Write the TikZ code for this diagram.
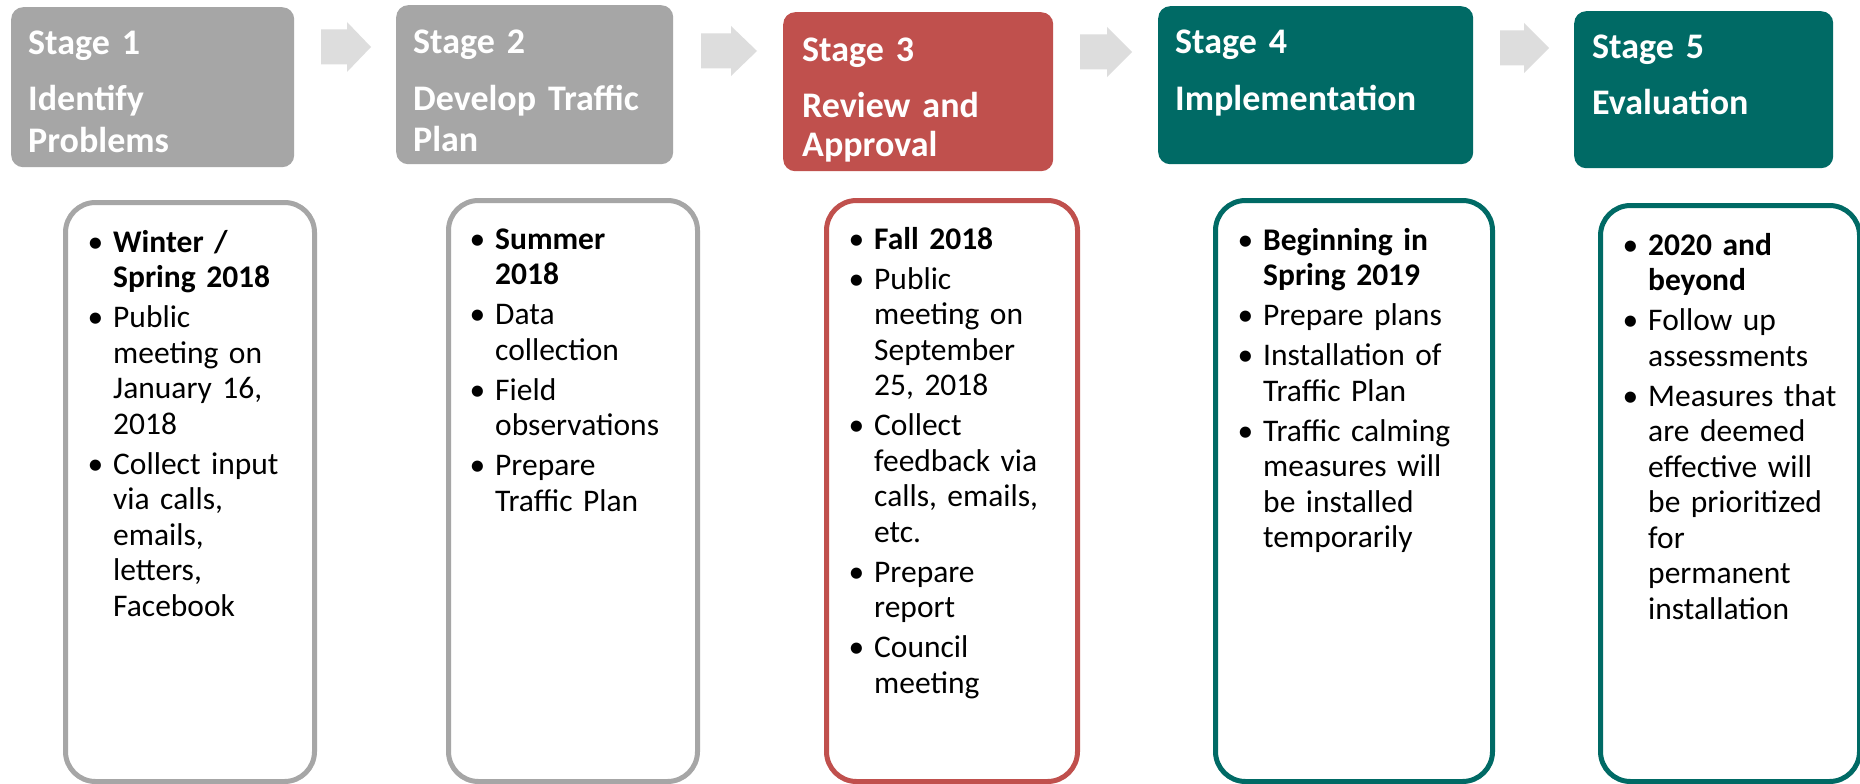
\documentclass[tikz,border=0pt]{standalone}
\usepackage{fontspec}
\setmainfont{Carlito}
\definecolor{stgray}{HTML}{A6A6A6}
\definecolor{stred}{HTML}{C0504D}
\definecolor{stteal}{HTML}{006A65}
\definecolor{arrgray}{HTML}{DDDDDD}
\newcommand{\stbul}{\leavevmode\llap{•\hspace{10pt}}}
\newcommand{\stagearrow}[4]{\fill[arrgray] (#1,#4-17.5) -- (#2,#4-17.5) -- (#2,#4-25) -- (#3,#4) -- (#2,#4+25) -- (#2,#4+17.5) -- (#1,#4+17.5) -- cycle;}
\begin{document}
\begin{tikzpicture}[x=1pt,y=-1pt,
  hdrbox/.style={rounded corners=12pt, inner sep=0pt, anchor=north west},
  hdrtext/.style={anchor=base west, inner sep=0pt, align=left, text width=300pt, text=white, font=\fontsize{36}{42}\selectfont\bfseries},
  bodybox/.style={rounded corners=30pt, line width=5pt, fill=white, inner sep=0pt, anchor=north west},
  bodytext/.style={anchor=base west, inner sep=0pt, align=left, text width=230pt, font=\fontsize{31.5}{35.5}\selectfont}]
\useasboundingbox (0,0) rectangle (1860,784);
\fill[white] (0,0) rectangle (1860,784);

% header boxes
\node[hdrbox, fill=stgray, minimum width=283pt, minimum height=160pt] (h1) at (11,7) {};
\node[hdrbox, fill=stgray, minimum width=277pt, minimum height=159pt] (h2) at (396,5) {};
\node[hdrbox, fill=stred,  minimum width=270pt, minimum height=159pt] (h3) at (783,12) {};
\node[hdrbox, fill=stteal, minimum width=315pt, minimum height=158pt] (h4) at (1158,6) {};
\node[hdrbox, fill=stteal, minimum width=259pt, minimum height=157pt] (h5) at (1574,11) {};

\node[hdrtext] (t1) at (28,55) {Stage 1\\[13pt]Identify\\[1pt]Problems};
\node[hdrtext] (t2) at (413,53) {Stage 2\\[15pt]Develop Traffic\\[-1pt]Plan};
\node[hdrtext] (t3) at (802,62) {Stage 3\\[14pt]Review and\\[-3pt]Approval};
\node[hdrtext] (t4) at (1175,53) {Stage 4\\[15pt]Implementation};
\node[hdrtext] (t5) at (1592,59) {Stage 5\\[14pt]Evaluation};

% arrows between stages
\stagearrow{321}{347}{371}{47}
\stagearrow{701}{731}{757}{51}
\stagearrow{1080}{1107}{1132}{52}
\stagearrow{1500}{1524}{1549}{48}

% body boxes
\node[bodybox, draw=stgray, minimum width=249pt, minimum height=579pt] (b1) at (63,200) {};
\node[bodybox, draw=stgray, minimum width=249pt, minimum height=581pt] (b2) at (446,198) {};
\node[bodybox, draw=stred,  minimum width=251pt, minimum height=581pt] (b3) at (824,198) {};
\node[bodybox, draw=stteal, minimum width=277pt, minimum height=581pt] (b4) at (1213,198) {};
\node[bodybox, draw=stteal, minimum width=259pt, minimum height=576pt] (b5) at (1598,203) {};

\node[bodytext] (x1) at (113,252) {\stbul\textbf{Winter /}\\\textbf{Spring 2018}\\[4.5pt]\stbul Public\\meeting on\\January 16,\\2018\\[4.5pt]\stbul Collect input\\via calls,\\emails,\\letters,\\Facebook};
\node[bodytext] (x2) at (495,249) {\stbul\textbf{Summer}\\\textbf{2018}\\[4.5pt]\stbul Data\\collection\\[4.5pt]\stbul Field\\observations\\[4.5pt]\stbul Prepare\\Traffic Plan};
\node[bodytext] (x3) at (874,249) {\stbul\textbf{Fall 2018}\\[4.5pt]\stbul Public\\meeting on\\September\\25, 2018\\[4.5pt]\stbul Collect\\feedback via\\calls, emails,\\etc.\\[4.5pt]\stbul Prepare\\report\\[4.5pt]\stbul Council\\meeting};
\node[bodytext] (x4) at (1263,250) {\stbul\textbf{Beginning in}\\\textbf{Spring 2019}\\[4.5pt]\stbul Prepare plans\\[4.5pt]\stbul Installation of\\Traffic Plan\\[4.5pt]\stbul Traffic calming\\measures will\\be installed\\temporarily};
\node[bodytext] (x5) at (1648,255) {\stbul\textbf{2020 and}\\\textbf{beyond}\\[4.5pt]\stbul Follow up\\assessments\\[4.5pt]\stbul Measures that\\are deemed\\effective will\\be prioritized\\for\\permanent\\installation};
\end{tikzpicture}
\end{document}
